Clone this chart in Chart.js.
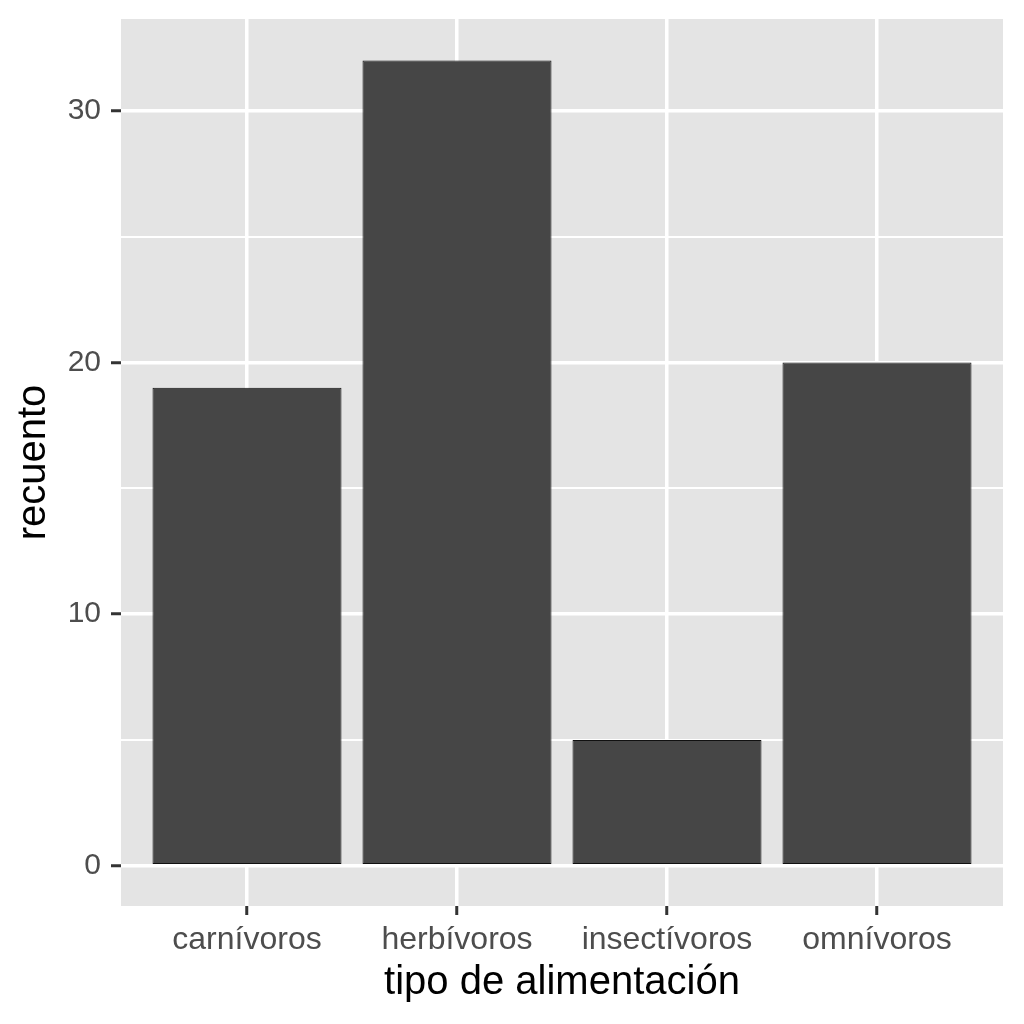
<!DOCTYPE html>
<html>
<head>
<meta charset="utf-8">
<script src="https://cdn.jsdelivr.net/npm/chart.js@4"></script>
<style>
  html, body { margin: 0; padding: 0; background: #fff; }
</style>
</head>
<body>
<canvas id="grafico" width="1024" height="1024"></canvas>
<script>
// datos
const categorias = ['carnívoros', 'herbívoros', 'insectívoros', 'omnívoros'];
const recuento = [19, 32, 5, 20];
const ticksY = [0, 5, 10, 15, 20, 25, 30];
const etiquetasY = [0, 10, 20, 30];

const fuente = "'Liberation Sans', Arial, sans-serif";

// fondo gris del panel (estilo ggplot)
const fondoPanel = {
    id: 'fondoPanel',
    beforeDraw(chart) {
        const a = chart.chartArea;
        const ctx = chart.ctx;
        ctx.save();
        ctx.fillStyle = '#E4E4E4';
        ctx.fillRect(a.left, a.top, a.right - a.left, a.bottom - a.top);
        ctx.restore();
    }
};

const ctx = document.getElementById('grafico').getContext('2d');
new Chart(ctx, {
    type: 'bar',
    data: {
        datasets: [{
            data: recuento.map((v, i) => ({ x: i + 1, y: v })),
            backgroundColor: '#464646',
            borderColor: '#111111',
            borderWidth: 1,
            borderSkipped: false,
            barPercentage: 0.9,
            categoryPercentage: 1
        }]
    },
    options: {
        responsive: false,
        devicePixelRatio: 1,
        animation: false,
        layout: { padding: { left: 0, right: 21, top: 19, bottom: 0 } },
        plugins: {
            legend: { display: false },
            tooltip: { enabled: false }
        },
        scales: {
            x: {
                type: 'linear',
                offset: false,
                min: 0.4,
                max: 4.6,
                afterBuildTicks: axis => {
                    axis.ticks = categorias.map((c, i) => ({ value: i + 1 }));
                },
                afterFit: axis => {
                    axis.height = 118;
                    axis.paddingLeft = 0;
                    axis.paddingRight = 0;
                },
                border: { display: false },
                grid: {
                    offset: false,
                    color: '#FFFFFF',
                    lineWidth: 3.5,
                    tickColor: '#333333',
                    tickWidth: 3,
                    tickLength: 9
                },
                ticks: {
                    padding: 6,
                    color: '#4D4D4D',
                    font: { family: fuente, size: 32 },
                    callback: v => categorias[v - 1]
                },
                title: {
                    display: true,
                    text: 'tipo de alimentación',
                    color: '#000000',
                    font: { family: fuente, size: 40 },
                    padding: { top: 4, bottom: 17 }
                }
            },
            y: {
                min: -1.6,
                max: 33.65,
                afterBuildTicks: axis => {
                    axis.ticks = ticksY.map(v => ({ value: v }));
                },
                afterFit: axis => {
                    axis.width = 121;
                    axis.paddingTop = 0;
                    axis.paddingBottom = 0;
                },
                border: { display: false },
                grid: {
                    color: '#FFFFFF',
                    lineWidth: c => etiquetasY.includes(c.tick.value) ? 3.5 : 2,
                    tickColor: c => etiquetasY.includes(c.tick.value) ? '#333333' : 'rgba(0,0,0,0)',
                    tickWidth: 3,
                    tickLength: 10
                },
                ticks: {
                    padding: 10,
                    color: '#4D4D4D',
                    font: { family: fuente, size: 30 },
                    callback: v => etiquetasY.includes(v) ? String(v) : ''
                },
                title: {
                    display: true,
                    text: 'recuento',
                    color: '#000000',
                    font: { family: fuente, size: 40 },
                    padding: { top: 10, bottom: 0 }
                }
            }
        }
    },
    plugins: [fondoPanel]
});
</script>
</body>
</html>
